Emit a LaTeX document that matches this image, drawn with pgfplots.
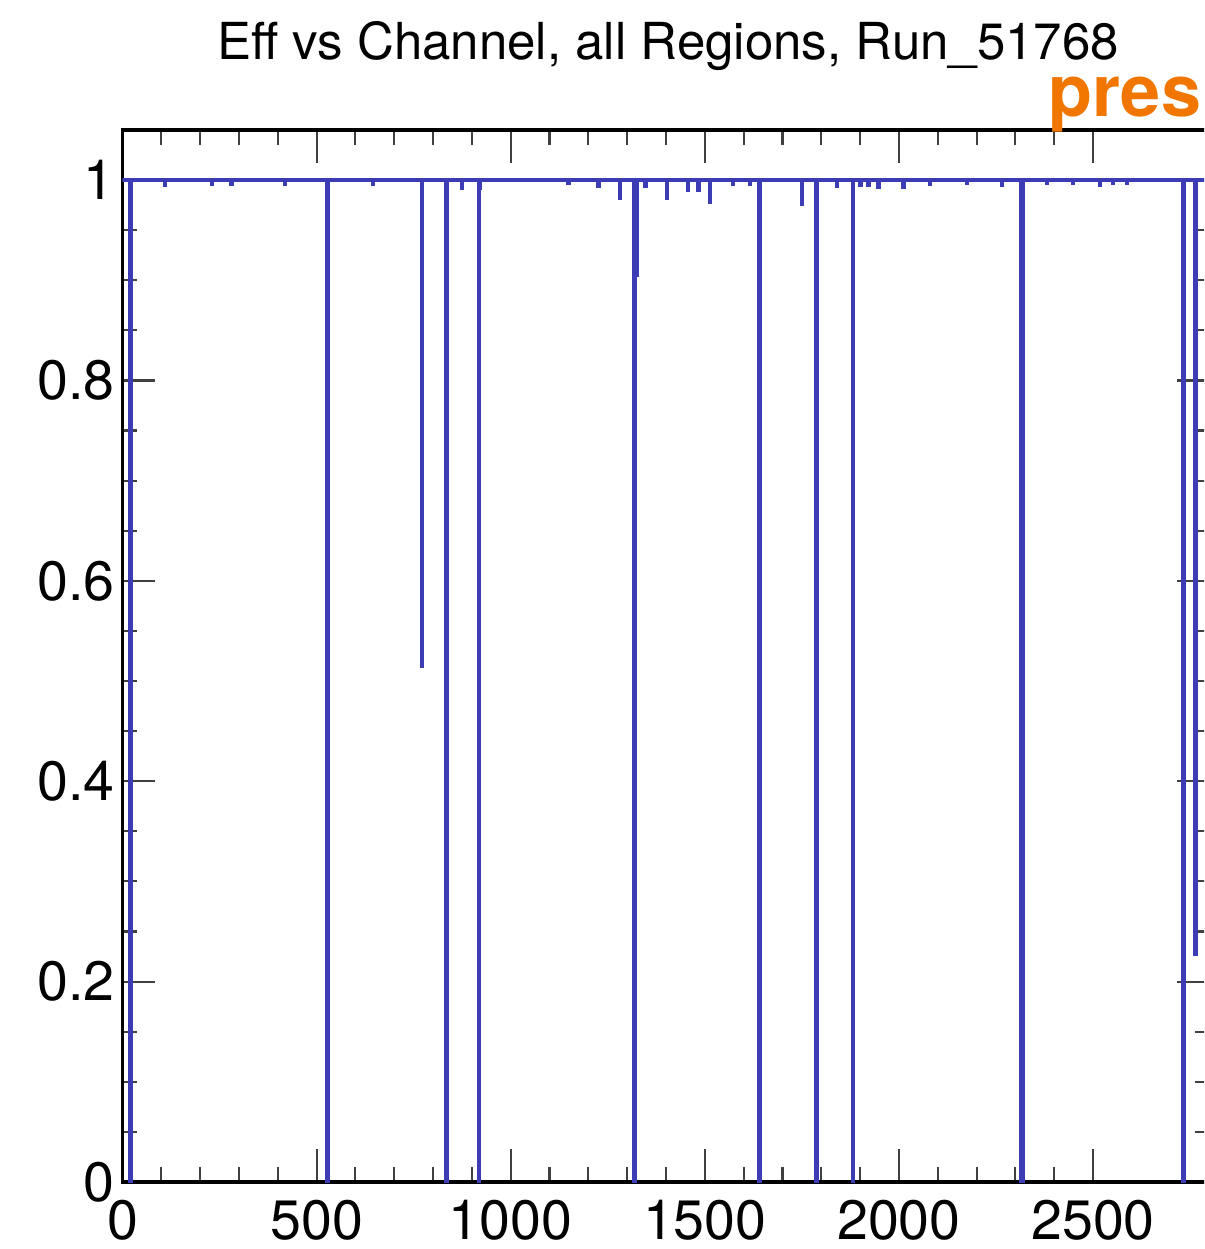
\documentclass[border=0pt]{standalone}
\usepackage{pgfplots}
\pgfplotsset{compat=1.18}
\usepackage{fontspec}
\setmainfont{TeX Gyre Heros}
\definecolor{histblue}{RGB}{60,60,180}
\definecolor{prelim}{RGB}{240,118,0}
\begin{document}
\begin{tikzpicture}
\useasboundingbox (0,0) rectangle (401.33pt,416.33pt);
\clip (0,0) rectangle (401.33pt,416.33pt);
\begin{axis}[
  at={(40.83pt,22.33pt)}, anchor=south west,
  scale only axis, width=362.33pt, height=350.67pt,
  xmin=0, xmax=2800, ymin=0, ymax=1.05,
  xtick={0,500,1000,1500,2000,2500}, minor x tick num=4,
  ytick={0,0.2,0.4,0.6,0.8,1}, minor y tick num=3,
  tick align=inside, tick pos=both,
  major tick length=11pt, minor tick length=5pt,
  tick style={black!75, line width=0.7pt},
  axis line style={line width=1.2pt, black},
  /pgf/number format/assume math mode=true,
  /pgf/number format/1000 sep={},
  ticklabel style={font=\fontsize{18.5}{20}\selectfont, inner sep=0pt},
  xticklabel style={yshift=-6pt},
  yticklabel style={xshift=-2.5pt},
]
\addplot[const plot, histblue, line width=1.2pt] coordinates {
(0,1)
(19,0) (22,1)
(108,0.995) (110,1)
(229,0.996) (231,1)
(280,0.996) (282,1)
(418,0.996) (420,1)
(527,0) (529,1)
(645,0.996) (647,1)
(771,0.515) (773,1)
(832,0) (836,1)
(873,0.992) (876,1)
(917,0) (919,0.992) (922,1)
(1148,0.997) (1150,1)
(1224,0.994) (1228,1)
(1281,0.982) (1283,1)
(1318,0) (1321,0.905) (1326,1)
(1345,0.994) (1348,1)
(1401,0.982) (1403,1)
(1456,0.99) (1458,1)
(1482,0.99) (1485,1)
(1512,0.978) (1515,1)
(1572,0.996) (1574,1)
(1615,0.996) (1617,1)
(1640,0) (1642,1)
(1749,0.976) (1751,1)
(1786,0) (1790,1)
(1839,0.994) (1841,1)
(1881,0) (1883,1)
(1899,0.995) (1902,1)
(1920,0.995) (1923,1)
(1945,0.993) (1948,1)
(2010,0.993) (2013,1)
(2079,0.996) (2081,1)
(2174,0.997) (2176,1)
(2264,0.995) (2267,1)
(2315,0) (2319,1)
(2380,0.997) (2382,1)
(2448,0.997) (2450,1)
(2517,0.995) (2519,1)
(2551,0.997) (2553,1)
(2586,0.997) (2588,1)
(2730,0) (2735,1)
(2763,0.227) (2765,1)
(2800,1)
};
\end{axis}
\node[anchor=base, inner sep=0pt, font=\fontsize{17}{20}\selectfont] at (222.67pt,396.33pt) {Eff vs Channel, all Regions, Run\_51768};
\node[anchor=base west, inner sep=0pt, text=prelim, font=\fontsize{24}{28}\selectfont\bfseries] at (349.33pt,377.33pt) {pres};
\end{tikzpicture}
\end{document}
